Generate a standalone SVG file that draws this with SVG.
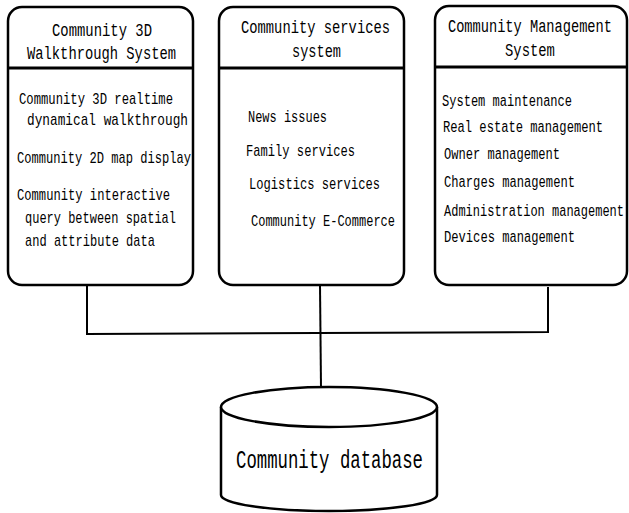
<svg xmlns="http://www.w3.org/2000/svg" width="629" height="513" viewBox="0 0 629 513">
  <style>
    .box { fill: #fff; stroke: #000; stroke-width: 2.5; }
    .div { stroke: #000; stroke-width: 3; }
    .wire { fill: none; stroke: #000; stroke-width: 2; }
    text { font-family: "Liberation Mono", "DejaVu Sans Mono", monospace; fill: #000; }
    .title { font-size: 19px; }
    .item { font-size: 17px; }
    .db { font-size: 25px; }
  </style>

  <!-- connectors between the three subsystems and the database -->
  <g id="connectors">
    <polyline class="wire" points="87,286 87,334 548,332 548,287"/>
    <line class="wire" x1="320" y1="285" x2="321" y2="388"/>
  </g>

  <g id="walkthrough-system">
    <rect class="box" x="8" y="7" width="185" height="278" rx="14"/>
    <line class="div" x1="8" y1="68" x2="193" y2="68"/>
    <text class="title" x="52" y="36" textLength="100" lengthAdjust="spacingAndGlyphs">Community 3D</text>
    <text class="title" x="27" y="59" textLength="149" lengthAdjust="spacingAndGlyphs">Walkthrough System</text>
    <text class="item" x="19" y="104" textLength="154" lengthAdjust="spacingAndGlyphs">Community 3D realtime</text>
    <text class="item" x="27" y="125" textLength="161" lengthAdjust="spacingAndGlyphs">dynamical walkthrough</text>
    <text class="item" x="17" y="163" textLength="174" lengthAdjust="spacingAndGlyphs">Community 2D map display</text>
    <text class="item" x="17" y="200" textLength="153" lengthAdjust="spacingAndGlyphs">Community interactive</text>
    <text class="item" x="25" y="223" textLength="151" lengthAdjust="spacingAndGlyphs">query between spatial</text>
    <text class="item" x="25" y="246" textLength="130" lengthAdjust="spacingAndGlyphs">and attribute data</text>
  </g>

  <g id="services-system">
    <rect class="box" x="219" y="7" width="185" height="278" rx="14"/>
    <line class="div" x1="219" y1="68" x2="404" y2="68"/>
    <text class="title" x="241" y="33" textLength="149" lengthAdjust="spacingAndGlyphs">Community services</text>
    <text class="title" x="292" y="57" textLength="49" lengthAdjust="spacingAndGlyphs">system</text>
    <text class="item" x="248" y="122" textLength="79" lengthAdjust="spacingAndGlyphs">News issues</text>
    <text class="item" x="246" y="156" textLength="109" lengthAdjust="spacingAndGlyphs">Family services</text>
    <text class="item" x="249" y="189" textLength="131" lengthAdjust="spacingAndGlyphs">Logistics services</text>
    <text class="item" x="251" y="226" textLength="144" lengthAdjust="spacingAndGlyphs">Community E-Commerce</text>
  </g>

  <g id="management-system">
    <rect class="box" x="435" y="6" width="192" height="279" rx="14"/>
    <line class="div" x1="435" y1="67" x2="627" y2="67"/>
    <!-- narrow lettering: labels set in a horizontally condensed frame -->
    <g transform="translate(442,0) scale(0.72,1)">
      <text class="title" x="8.3" y="32" textLength="227.8" lengthAdjust="spacingAndGlyphs">Community Management</text>
      <text class="title" x="87.5" y="56" textLength="69.4" lengthAdjust="spacingAndGlyphs">System</text>
      <text class="item" x="0" y="106" textLength="180.6" lengthAdjust="spacingAndGlyphs">System maintenance</text>
      <text class="item" x="1.4" y="132" textLength="222.2" lengthAdjust="spacingAndGlyphs">Real estate management</text>
      <text class="item" x="2.8" y="159" textLength="161.1" lengthAdjust="spacingAndGlyphs">Owner management</text>
      <text class="item" x="2.8" y="187" textLength="181.9" lengthAdjust="spacingAndGlyphs">Charges management</text>
      <text class="item" x="2.8" y="216" textLength="250" lengthAdjust="spacingAndGlyphs">Administration management</text>
      <text class="item" x="2.8" y="242" textLength="181.9" lengthAdjust="spacingAndGlyphs">Devices management</text>
    </g>
  </g>

  <g id="community-database">
    <path class="box" d="M221 407 V495 A108 16 0 0 0 437 495 V407"/>
    <ellipse class="box" cx="329" cy="407" rx="108" ry="20"/>
    <text class="db" x="236" y="468" textLength="187" lengthAdjust="spacingAndGlyphs">Community database</text>
  </g>
</svg>
